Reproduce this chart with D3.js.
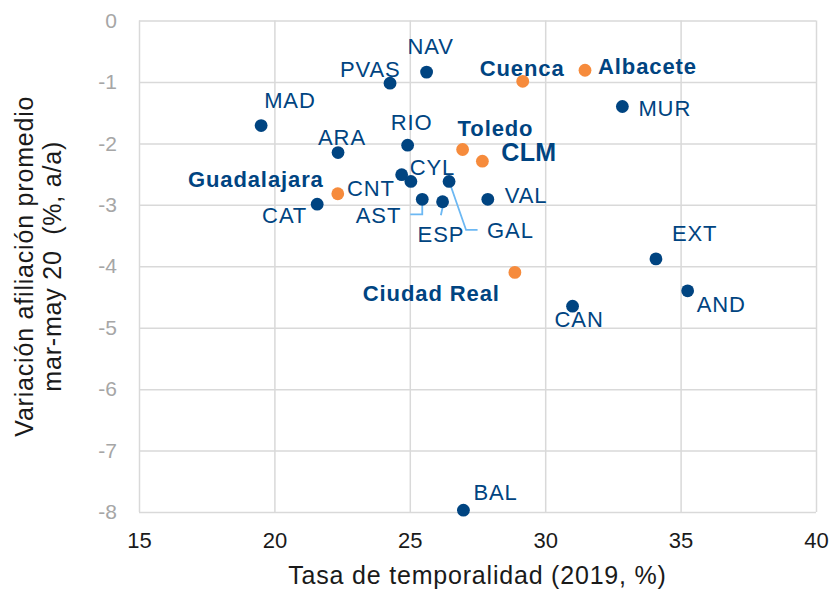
<!DOCTYPE html>
<html>
<head>
<meta charset="utf-8">
<script src="https://cdn.jsdelivr.net/npm/d3@7"></script>
<style>
  body { margin: 0; background: #fff; }
  text { font-family: "Liberation Sans", Arial, sans-serif; }
</style>
</head>
<body>
<div id="chart"></div>
<script>
// DATA
var names = ["MAD", "PVAS", "NAV", "ARA", "RIO", "CYL", "CNT", "AST", "ESP", "GAL", "VAL", "CAT",
  "MUR", "EXT", "AND", "CAN", "BAL",
  "Guadalajara", "Toledo", "CLM", "Cuenca", "Albacete", "Ciudad Real"];
var temporalidad = [19.51, 24.27, 25.62, 22.35, 24.92, 24.70, 25.04, 25.46, 26.21, 26.45, 27.88, 21.58,
  32.85, 34.09, 35.26, 31.01, 26.98,
  22.34, 26.95, 27.68, 29.17, 31.47, 28.88];
var afiliacion = [-1.71, -1.02, -0.84, -2.15, -2.03, -2.51, -2.62, -2.91, -2.95, -2.62, -2.91, -2.99,
  -1.40, -3.88, -4.40, -4.65, -7.97,
  -2.82, -2.10, -2.29, -0.99, -0.81, -4.10];
// 0 = comunidad autónoma, 1 = Castilla-La Mancha y provincias
var grupo = [0, 0, 0, 0, 0, 0, 0, 0, 0, 0, 0, 0, 0, 0, 0, 0, 0, 1, 1, 1, 1, 1, 1];

var xTicks = [15, 20, 25, 30, 35, 40];
var yTicks = [0, -1, -2, -3, -4, -5, -6, -7, -8];

// label placement, offsets from the dot (px)
var labelPos = {
  "MAD": { dx: 3, dy: -18 },
  "PVAS": { dx: -50, dy: -6 },
  "NAV": { dx: -19, dy: -18 },
  "ARA": { dx: -20, dy: -8 },
  "RIO": { dx: -17, dy: -15 },
  "CYL": { dx: 8, dy: 0 },
  "CNT": { dx: -64, dy: 15 },
  "AST": { dx: -21, dy: 24, anchor: "end", leader: [[0, 5], [0, 15], [-12, 15]] },
  "ESP": { dx: -25, dy: 40, leader: [[0.6, 3], [-1.7, 13.5]] },
  "GAL": { dx: 38, dy: 57, leader: [[1, 2.5], [17, 48.5], [28.5, 48.5]] },
  "VAL": { dx: 17, dy: 4 },
  "CAT": { dx: -10, dy: 19, anchor: "end" },
  "MUR": { dx: 16, dy: 9 },
  "EXT": { dx: 16, dy: -18 },
  "AND": { dx: 9, dy: 21 },
  "CAN": { dx: -18, dy: 21 },
  "BAL": { dx: 10, dy: -10 },
  "Guadalajara": { dx: -14, dy: -7, anchor: "end" },
  "Toledo": { dx: -5, dy: -14 },
  "CLM": { dx: 19, dy: 0, big: true },
  "Cuenca": { dx: -43, dy: -5 },
  "Albacete": { dx: 13, dy: 4 },
  "Ciudad Real": { dx: -15, dy: 29, anchor: "end" }
};

var blue = "#004481",
  orange = "#f68b3c",
  leaderColor = "#6cb8f3",
  gridColor = "#d9d9d9";

var points = names.map(function (n, i) {
  return { name: n, x: temporalidad[i], y: afiliacion[i], g: grupo[i] };
});

var svg_width = 832,
  svg_height = 591,
  plotLeft = 139,
  plotRight = 816,
  plotTop = 20.5,
  plotBottom = 512;

var svg = d3.select("#chart").append("svg")
  .attr("width", svg_width)
  .attr("height", svg_height);

var xScale = d3.scaleLinear().domain([15, 40]).range([plotLeft, plotRight]),
  yScale = d3.scaleLinear().domain([-8, 0]).range([plotBottom, plotTop]);

// X-axis with vertical gridlines
var xAxis = svg.append("g")
  .attr("transform", "translate(0," + plotBottom + ")")
  .call(d3.axisBottom(xScale)
    .tickValues(xTicks)
    .tickSize(-(plotBottom - plotTop))
    .tickSizeOuter(0)
    .tickPadding(20)
    .tickFormat(function (d) { return String(d); }));
xAxis.select(".domain").remove();
xAxis.selectAll("line").attr("stroke", gridColor).attr("stroke-width", 1.5);
xAxis.selectAll("text")
  .attr("fill", "#1a1a1a")
  .style("font-size", "22px");

// Y-axis with horizontal gridlines
var yAxis = svg.append("g")
  .attr("transform", "translate(" + plotLeft + ",0)")
  .call(d3.axisLeft(yScale)
    .tickValues(yTicks)
    .tickSize(-(plotRight - plotLeft))
    .tickSizeOuter(0)
    .tickPadding(22)
    .tickFormat(function (d) { return String(d); }));
yAxis.select(".domain").remove();
yAxis.selectAll("line").attr("stroke", gridColor).attr("stroke-width", 1.5);
yAxis.selectAll("text")
  .attr("fill", "#a6a6a6")
  .style("font-size", "21px");

// leader lines
var lineGen = d3.line();
points.forEach(function (d) {
  var lp = labelPos[d.name];
  if (!lp || !lp.leader) return;
  var cx = xScale(d.x), cy = yScale(d.y);
  svg.append("path")
    .attr("d", lineGen(lp.leader.map(function (p) { return [cx + p[0], cy + p[1]]; })))
    .attr("fill", "none")
    .attr("stroke", leaderColor)
    .attr("stroke-width", 1.8);
});

// dots
svg.selectAll("circle.dot")
  .data(points)
  .enter()
  .append("circle")
  .attr("class", "dot")
  .attr("cx", function (d) { return xScale(d.x); })
  .attr("cy", function (d) { return yScale(d.y); })
  .attr("r", 6.4)
  .attr("fill", function (d) { return d.g == 1 ? orange : blue; });

// labels
svg.selectAll("text.lbl")
  .data(points)
  .enter()
  .append("text")
  .attr("class", "lbl")
  .attr("x", function (d) { return xScale(d.x) + labelPos[d.name].dx; })
  .attr("y", function (d) { return yScale(d.y) + labelPos[d.name].dy; })
  .attr("text-anchor", function (d) { return labelPos[d.name].anchor || "start"; })
  .attr("fill", blue)
  .style("font-size", function (d) { return labelPos[d.name].big ? "25px" : "22px"; })
  .style("font-weight", function (d) { return d.g == 1 ? "bold" : "normal"; })
  .style("letter-spacing", function (d) { return labelPos[d.name].big ? "0.3px" : "0.9px"; })
  .text(function (d) { return d.name; });

// axis titles
svg.append("text")
  .attr("x", (plotLeft + plotRight) / 2)
  .attr("y", 584)
  .attr("text-anchor", "middle")
  .attr("fill", "#1a1a1a")
  .style("font-size", "25px")
  .style("letter-spacing", "0.8px")
  .text("Tasa de temporalidad (2019, %)");

var yTitle = svg.append("text")
  .attr("transform", "translate(0," + (plotTop + plotBottom) / 2 + ") rotate(-90)")
  .attr("text-anchor", "middle")
  .attr("fill", "#1a1a1a")
  .style("font-size", "25px")
  .style("letter-spacing", "0.8px")
  .style("white-space", "pre");
yTitle.append("tspan").attr("x", 0).attr("y", 33).text("Variación afiliación promedio");
yTitle.append("tspan").attr("x", 0).attr("y", 61).text("mar-may 20  (%, a/a)");
</script>
</body>
</html>
